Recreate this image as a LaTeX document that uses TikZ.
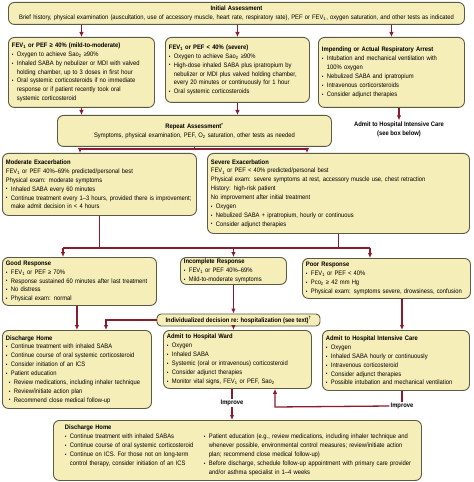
\documentclass[tikz,border=0pt]{standalone}
\usepackage{fontspec}
\setmainfont{Liberation Sans}[FakeStretch=0.9]
\usepackage{xcolor}
\usepackage{tikz}
\usetikzlibrary{arrows.meta}
\setlength\parindent{0pt}
\definecolor{boxfill}{HTML}{F5EEB8}
\definecolor{boxline}{HTML}{5B5A45}
\definecolor{linkred}{HTML}{8A1C2E}
\newcommand\fev{FEV\textsubscript{1}}
\newcommand\sat{Sao\textsubscript{2}}
\newcommand\bul{\par\hangindent=5bp\hangafter=1\makebox[5bp][l]{\raisebox{0.2bp}{\scalebox{0.8}{•}}}}
\newcommand\subbul{\par\hangindent=8bp\hangafter=1\hspace*{3bp}\makebox[5bp][l]{\raisebox{0.2bp}{\scalebox{0.8}{•}}}}

\begin{document}
\begin{tikzpicture}[x=1bp,y=-1bp,font=\fontsize{6.5}{8.9}\selectfont,
    panel/.style={draw=boxline,fill=boxfill,line width=0.9bp,rounded corners=6bp,
      align=left,anchor=north west,inner xsep=3.5bp,inner ysep=2bp},
    link/.style={linkred,line width=1.3bp,-{Latex[length=5bp,width=4.5bp]}},
    wire/.style={linkred,line width=1.3bp},
    note/.style={align=center,inner sep=1bp}]
\useasboundingbox (0,0) rectangle (474,482);

% first assessment
\node[panel,text width=449bp,minimum height=22bp,align=center] (init) at (8,2)
  {\textbf{Initial Assessment}\\Brief history, physical examination (auscultation, use of accessory muscle, heart rate, respiratory rate), PEF or \fev, oxygen saturation, and other tests as indicated};

\node[panel,text width=139bp,minimum height=70bp] (mild) at (8,37)
  {\textbf{\fev{} or PEF ≥ 40\% (mild-to-moderate)}
   \bul Oxygen to achieve \sat{} ≥90\%
   \bul Inhaled SABA by nebulizer or MDI with valved\newline holding chamber, up to 3 doses in first hour
   \bul Oral systemic corticosteroids if no immediate\newline response or if patient recently took oral\newline systemic corticosteroid\par};
\node[panel,text width=137bp,minimum height=65bp] (sevinit) at (165,37)
  {\textbf{\fev{} or PEF < 40\% (severe)}
   \bul Oxygen to achieve \sat{} ≥90\%
   \bul High-dose inhaled SABA plus ipratropium by\newline nebulizer or MDI plus valved holding chamber,\newline every 20 minutes or continuously for 1 hour
   \bul Oral systemic corticosteroids\par};
\node[panel,text width=139bp,minimum height=70bp] (arrest) at (318,37)
  {\textbf{Impending or Actual Respiratory Arrest}
   \bul Intubation and mechanical ventilation with\newline 100\% oxygen
   \bul Nebulized SABA and ipratropium
   \bul Intravenous corticorsteroids
   \bul Consider adjunct therapies\par};

\node[panel,text width=267bp,minimum height=31bp,align=center] (repeat) at (57,115)
  {\textbf{Repeat Assessment}\textsuperscript{\textbf{*}}\\Symptoms, physical examination, PEF, O\textsubscript{2} saturation, other tests as needed};
\node[note] (icunote) at (399,129) {\textbf{Admit to Hospital Intensive Care}\\\textbf{(see box below)}};

% exacerbation
\node[panel,text width=187bp,minimum height=62bp] (moderate) at (2,153)
  {\textbf{Moderate Exacerbation}\par
   \fev{} or PEF 40\%--69\% predicted/personal best\par
   Physical exam: moderate symptoms
   \bul Inhaled SABA every 60 minutes
   \bul Continue treatment every 1--3 hours, provided there is improvement;\newline make admit decision in < 4 hours\par};
\node[panel,text width=255bp,minimum height=80bp] (severe) at (207,153)
  {\textbf{Severe Exacerbation}\par
   \fev{} or PEF < 40\% predicted/personal best\par
   Physical exam: severe symptoms at rest, accessory muscle use, chest retraction\par
   History: high-risk patient\par
   No improvement after initial treatment
   \bul Oxygen
   \bul Nebulized SABA + ipratropium, hourly or continuous
   \bul Consider adjunct therapies\par};

% response
\node[panel,text width=147bp,minimum height=48bp] (good) at (2,257)
  {\textbf{Good Response}
   \bul \fev{} or PEF ≥ 70\%
   \bul Response sustained 60 minutes after last treatment
   \bul No distress
   \bul Physical exam: normal\par};
\node[panel,text width=99bp,minimum height=27bp,inner ysep=1bp] (incomplete) at (180,257)
  {\textbf{Incomplete Response}
   \bul \fev{} or PEF 40\%--69\%
   \bul Mild-to-moderate symptoms\par};
\node[panel,text width=161bp,minimum height=40bp] (poor) at (302,258)
  {\textbf{Poor Response}
   \bul \fev{} or PEF < 40\%
   \bul Pco\textsubscript{2} ≥ 42 mm Hg
   \bul Physical exam: symptoms severe, drowsiness, confusion\par};
\node[panel,anchor=center,minimum width=163bp,minimum height=12bp,inner xsep=1bp,inner ysep=0.5bp,rounded corners=4bp] (indiv) at (238.5,320)
  {\textbf{Individualized decision re: hospitalization (see text)}\textsuperscript{\textbf{†}}};

% disposition
\node[panel,text width=142bp,minimum height=78bp] (home) at (2,330)
  {\textbf{Discharge Home}
   \bul Continue treatment with inhaled SABA
   \bul Continue course of oral systemic corticosteroid
   \bul Consider initiation of an ICS
   \bul Patient education
   \subbul Review medications, including inhaler technique
   \subbul Review/initiate action plan
   \subbul Recommend close medical follow-up\par};
\node[panel,text width=141bp,minimum height=58bp] (ward) at (163,330)
  {\textbf{Admit to Hospital Ward}
   \bul Oxygen
   \bul Inhaled SABA
   \bul Systemic (oral or intravenous) corticosteroid
   \bul Consider adjunct therapies
   \bul Monitor vital signs, \fev{} or PEF, \sat\par};
\node[panel,text width=140bp,minimum height=60bp] (icu) at (322,330)
  {\textbf{Admit to Hospital Intensive Care}
   \bul Oxygen
   \bul Inhaled SABA hourly or continuously
   \bul Intravenous corticosteroid
   \bul Consider adjunct therapies
   \bul Possible intubation and mechanical ventilation\par};
\node[note] (imp1) at (232,403) {\textbf{Improve}};
\node[note] (imp2) at (402,406) {\textbf{Improve}};
\node[panel,text width=361bp,minimum height=60bp] (home2) at (53,420)
  {\hspace*{8bp}\begin{minipage}[t]{136bp}\textbf{Discharge Home}
   \bul Continue treatment with inhaled SABAs
   \bul Continue course of oral systemic corticosteroid
   \bul Continue on ICS. For those not on long-term\newline control therapy, consider initiation of an ICS\par\end{minipage}\hspace{3bp}%
   \begin{minipage}[t]{213bp}\mbox{}
   \bul Patient education (e.g., review medications, including inhaler technique and\newline whenever possible, environmental control measures; review/initiate action\newline plan; recommend close medical follow-up)
   \bul Before discharge, schedule follow-up appointment with primary care provider\newline and/or asthma specialist in 1--4 weeks\par\end{minipage}};

% junction points
\coordinate (rl) at (80,149);
\coordinate (rr) at (307,149);
\coordinate (fl) at (63,248);
\coordinate (fr) at (370,248);
\coordinate (dx) at (106,320);
\coordinate (ix) at (402,300);
\coordinate (ux) at (275,407);

% connectors
\draw[link] (init.south -| mild.north) -- (mild.north);
\draw[link] (init.south -| sevinit.north) -- (sevinit.north);
\draw[link] (init.south -| arrest.north) -- (arrest.north);
\draw[link] (mild.south) -- (mild.south |- repeat.north);
\draw[link] (sevinit.south) -- (sevinit.south |- repeat.north);
\draw[link] (arrest.south -| icunote.north) -- (icunote.north);
\draw[wire] (repeat.south) -- (repeat.south |- rl);
\draw[link] (rl -| repeat.south) -| (rl |- moderate.north);
\draw[link] (rr -| repeat.south) -| (rr |- severe.north);
\draw[wire] (moderate.south) -- (moderate.south |- fl);
\draw[wire] (severe.south) -- (severe.south |- fl);
\draw[link] (fl) -- (fl |- good.north);
\draw[wire] (fl) -- (fr);
\draw[link] (incomplete.north |- fl) -- (incomplete.north);
\draw[link] (fr) -- (fr |- poor.north);
\draw[link] (incomplete.south) -- (incomplete.south |- indiv.north);
\draw[link] (indiv.west) -- (dx) -- (dx |- home.north);
\draw[link] (good.south -| home.north) -- (home.north);
\draw[link] (indiv.south -| incomplete.south) -- (incomplete.south |- ward.north);
\draw[link] (ix |- poor.south) -- (ix |- icu.north);
\draw[wire] (ward.south -| imp1) -- (imp1.north);
\draw[link] (imp1.south) -- (imp1 |- home2.north);
\draw[wire] (icu.south -| imp2) -- (imp2.north);
\draw[link] (imp2.west) -- (ux) -- (ux |- ward.south);
\end{tikzpicture}
\end{document}
